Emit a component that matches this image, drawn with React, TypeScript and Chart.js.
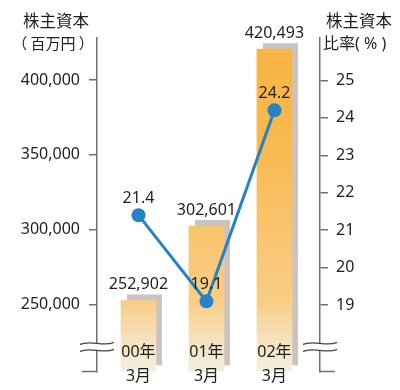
import { useEffect, useRef } from "react";
import { Chart, registerables } from "chart.js";

Chart.register(...registerables);

const years = ["00年", "01年", "02年"];
const months = ["3月", "3月", "3月"];
const equity = [252902, 302601, 420493];
const ratio = [21.4, 19.1, 24.2];
const equityTicks = [250000, 300000, 350000, 400000];
const ratioTicks = [19, 20, 21, 22, 23, 24, 25];

const Y_MIN = 205600;
const Y_MAX = 428000;
const R_MIN = 17.23;
const R_MAX = 26.13;

const FONT = '"Noto Sans", "Noto Sans CJK JP", sans-serif';
const CJK = '"Noto Sans CJK JP", "Noto Sans", sans-serif';
const TEXT = "#1e1e1e";
const AXIS = "#707070";
const BLUE = "#2781c7";

const fmt = (v: number) => v.toLocaleString("en-US");

const overlay = {
  id: "overlay",
  beforeDatasetsDraw(chart: any) {
    const ctx = chart.ctx;
    const meta = chart.getDatasetMeta(0);
    ctx.save();
    ctx.fillStyle = "#cbc3c0";
    meta.data.forEach((el: any) => {
      const { x, y, base, width } = el.getProps(["x", "y", "base", "width"], true);
      ctx.fillRect(x - width / 2 + 6, y - 6, width, base - y);
    });
    ctx.restore();
  },
  afterDatasetsDraw(chart: any) {
    const ctx = chart.ctx;
    ctx.save();
    ctx.fillStyle = TEXT;
    ctx.textAlign = "center";
    ctx.textBaseline = "middle";
    ctx.font = `16px ${FONT}`;
    const barMeta = chart.getDatasetMeta(0);
    barMeta.data.forEach((el: any, i: number) => {
      const { x, y } = el.getProps(["x", "y"], true);
      ctx.fillText(fmt(equity[i]), x, y - 16);
    });
    const lineMeta = chart.getDatasetMeta(1);
    lineMeta.data.forEach((el: any, i: number) => {
      const { x, y } = el.getProps(["x", "y"], true);
      ctx.fillText(ratio[i].toFixed(1), x, y - 17);
    });
    const xs = chart.scales.x;
    const ca = chart.chartArea;
    years.forEach((lab, i) => {
      const px = xs.getPixelForValue(i);
      ctx.fillText(lab, px, ca.bottom - 19);
      ctx.fillText(months[i], px, ca.bottom + 5);
    });
    ctx.restore();
  },
  afterDraw(chart: any) {
    const ctx = chart.ctx;
    const ca = chart.chartArea;
    ctx.save();
    ctx.strokeStyle = AXIS;
    ctx.lineWidth = 1.5;
    ctx.beginPath();
    ctx.moveTo(ca.left - 15, ca.bottom);
    ctx.lineTo(ca.left, ca.bottom);
    ctx.moveTo(ca.right, ca.bottom);
    ctx.lineTo(ca.right + 15, ca.bottom);
    ctx.stroke();
    const y1 = ca.bottom - 28;
    const y2 = ca.bottom - 21;
    const wave = (cx: number, y: number) => {
      ctx.moveTo(cx - 17, y + 1);
      ctx.bezierCurveTo(cx - 6, y - 4, cx + 6, y + 4, cx + 17, y - 1);
    };
    [ca.left, ca.right].forEach((cx) => {
      ctx.fillStyle = "#ffffff";
      ctx.beginPath();
      wave(cx, y1);
      ctx.lineTo(cx + 17, y2 - 1);
      ctx.bezierCurveTo(cx + 6, y2 + 4, cx - 6, y2 - 4, cx - 17, y2 + 1);
      ctx.closePath();
      ctx.fill();
      ctx.strokeStyle = "#444";
      ctx.lineWidth = 1.2;
      ctx.beginPath();
      wave(cx, y1);
      ctx.stroke();
      ctx.beginPath();
      wave(cx, y2);
      ctx.stroke();
    });
    ctx.fillStyle = TEXT;
    ctx.textBaseline = "middle";
    ctx.textAlign = "center";
    ctx.font = `16.5px ${CJK}`;
    ctx.fillText("株主資本", 56, 21);
    ctx.font = `15px ${CJK}`;
    ctx.fillText("（ 百万円 ）", 53, 43);
    ctx.font = `16.5px ${CJK}`;
    ctx.fillText("株主資本", 359, 21);
    ctx.textAlign = "left";
    ctx.font = `16px ${FONT}`;
    ctx.fillText("比率( % )", 323, 44);
    ctx.restore();
  },
};

export default function App() {
  const ref = useRef<HTMLCanvasElement>(null);

  useEffect(() => {
    document.body.style.margin = "0";
    const canvas = ref.current;
    if (!canvas) return;

    const gradient = (context: any) => {
      const chart = context.chart;
      const ca = chart.chartArea;
      if (!ca) return "#f9c06a";
      const g = chart.ctx.createLinearGradient(0, ca.top, 0, ca.bottom);
      g.addColorStop(0, "#f8b443");
      g.addColorStop(0.33, "#f8b94e");
      g.addColorStop(0.57, "#f9c46d");
      g.addColorStop(0.79, "#f9cd86");
      g.addColorStop(0.9, "#f5e1bb");
      g.addColorStop(1, "#f1f0e3");
      return g;
    };

    const chart = new Chart(canvas, {
      type: "bar",
      data: {
        datasets: [
          {
            type: "bar",
            data: equity.map((v, i) => ({ x: i, y: v })),
            backgroundColor: gradient,
            barThickness: 35,
            base: Y_MIN,
            xAxisID: "x",
            yAxisID: "y",
            order: 1,
          } as any,
          {
            type: "line",
            data: ratio.map((v, i) => ({ x: i, y: v })),
            borderColor: BLUE,
            backgroundColor: BLUE,
            borderWidth: 3,
            pointRadius: 7,
            pointBackgroundColor: BLUE,
            pointBorderWidth: 0,
            xAxisID: "x",
            yAxisID: "y2",
            order: 0,
          } as any,
        ],
      },
      options: {
        animation: false,
        responsive: false,
        maintainAspectRatio: false,
        layout: { padding: { top: 38, bottom: 14, left: 0, right: 0 } },
        plugins: { legend: { display: false }, tooltip: { enabled: false } },
        scales: {
          x: {
            type: "linear",
            min: -0.61,
            max: 2.67,
            offset: false,
            display: false,
          },
          y: {
            position: "left",
            min: Y_MIN,
            max: Y_MAX,
            afterBuildTicks: (s: any) => {
              s.ticks = equityTicks.map((v) => ({ value: v }));
            },
            afterFit: (s: any) => {
              s.width = 97;
            },
            grid: {
              drawOnChartArea: false,
              drawTicks: true,
              tickLength: 8,
              color: AXIS,
              lineWidth: 1.5,
            },
            border: { display: true, color: AXIS, width: 1.5 },
            ticks: {
              padding: 9,
              color: TEXT,
              font: { family: FONT, size: 16 },
              callback: (v: any) => fmt(Number(v)),
            },
          },
          y2: {
            position: "right",
            min: R_MIN,
            max: R_MAX,
            afterBuildTicks: (s: any) => {
              s.ticks = ratioTicks.map((v) => ({ value: v }));
            },
            afterFit: (s: any) => {
              s.width = 80;
            },
            grid: {
              drawOnChartArea: false,
              drawTicks: true,
              tickLength: 8,
              color: AXIS,
              lineWidth: 1.5,
            },
            border: { display: true, color: AXIS, width: 1.5 },
            ticks: {
              padding: 8,
              color: TEXT,
              font: { family: FONT, size: 16 },
              callback: (v: any) => String(v),
            },
          },
        },
      } as any,
      plugins: [overlay],
    });

    return () => chart.destroy();
  }, []);

  return (
    <div style={{ width: 400, height: 390, overflow: "hidden" }}>
      <canvas ref={ref} width={400} height={390} style={{ display: "block" }} />
    </div>
  );
}
